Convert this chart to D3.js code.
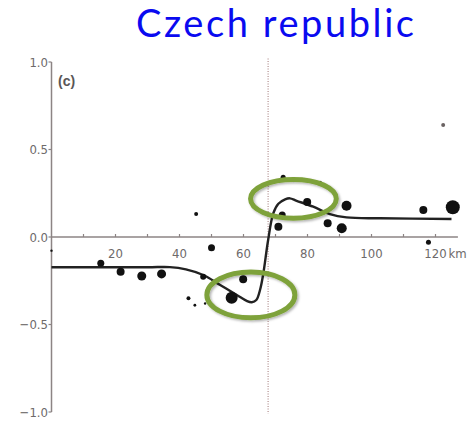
<!DOCTYPE html>
<html>
<head>
<meta charset="utf-8">
<script src="https://cdn.jsdelivr.net/npm/d3@7"></script>
<style>
  html, body { margin: 0; padding: 0; background: #fff; }
  svg { display: block; }
</style>
</head>
<body>
<svg id="chart" width="468" height="424"></svg>
<script>
// Sampling sites: distance along the transect (km), cline value and sample size
const siteKm = [0, 15.4, 21.6, 28.2, 34.4, 42.8, 44.8, 45.2, 47.4, 48, 50, 56.3, 59.9,
                70.9, 72.1, 72.4, 79.9, 83.9, 86.3, 90.7, 92.2, 116.2, 117.8, 122.4, 125.4];
const siteValue = [-0.078, -0.15, -0.198, -0.223, -0.211, -0.35, -0.39, 0.131, -0.227, -0.38,
                   -0.061, -0.347, -0.242, 0.059, 0.126, 0.341, 0.2, 0.31, 0.078, 0.05, 0.179,
                   0.154, -0.03, 0.64, 0.17];
const siteN = [1.1, 12.5, 16.3, 20.7, 20.7, 4, 2, 4, 9.2, 1.5, 12.5, 36.7, 16.3,
               16.3, 12.5, 6.4, 16.3, 4, 16.3, 25.5, 25.5, 16.3, 6.4, 4, 50];

// Fitted cline
const fitKm = [0, 30, 37, 42, 47.4, 52.7, 57.9, 61, 62.6, 64, 65.2, 66.2, 67.7, 69.3,
               70.9, 73, 74.5, 76.6, 81.8, 87, 92.2, 102.7, 125];
const fitValue = [-0.173, -0.173, -0.172, -0.185, -0.217, -0.274, -0.331, -0.365, -0.373,
                  -0.36, -0.30, -0.208, -0.017, 0.135, 0.19, 0.215, 0.221, 0.207, 0.173,
                  0.131, 0.112, 0.107, 0.103];

// Cline centre (km)
const centreKm = 67.7;

// Axis ticks
const xTicks = [10, 20, 30, 40, 50, 60, 70, 80, 90, 100, 110, 120];
const xTickLabels = [20, 40, 60, 80, 100, 120];
const yTicks = [1.0, 0.5, 0.0, -0.5, -1.0];

// Highlighted regions: [centre km, centre value, half-width km, half-height value]
const highlightKm = [75.6, 62.3];
const highlightValue = [0.218, -0.331];
const highlightHalfKm = [13.4, 13.75];
const highlightHalfValue = [0.111, 0.131];

const titleText = "Czech republic";
const panelLabel = "(c)";

const svg = d3.select("#chart");
const x = d3.scaleLinear().domain([0, 120]).range([51.5, 435.5]);
const y = d3.scaleLinear().domain([-1, 1]).range([412, 62]);
const r = d3.scaleSqrt().domain([0, 50]).range([0, 7]);

const axisColor = "#8c8484";
const labelColor = "#6e6a6a";
const tickFont = "'Liberation Sans Narrow', 'DejaVu Sans Condensed', sans-serif";

const defs = svg.append("defs");
const shadow = defs.append("filter").attr("id", "shadow")
  .attr("x", "-20%").attr("y", "-20%").attr("width", "140%").attr("height", "140%");
shadow.append("feDropShadow").attr("dx", 1.5).attr("dy", 1.5).attr("stdDeviation", 1.2)
  .attr("flood-color", "#000").attr("flood-opacity", 0.3);

// Title: fixed size, tracking widened to span the title width
const titleWidth = 278;
const title = svg.append("text")
  .attr("x", 275).attr("y", 37)
  .attr("text-anchor", "middle")
  .attr("font-family", "Lato, 'Open Sans', sans-serif")
  .attr("font-size", 38)
  .attr("fill", "#0a0af0")
  .text(titleText);
const tw = title.node().getComputedTextLength();
const spacing = Math.max(0, (titleWidth - tw) / (titleText.length - 1));
title.attr("letter-spacing", spacing).attr("x", 275 + spacing / 2);

// Y axis
svg.append("line")
  .attr("x1", x(0)).attr("x2", x(0))
  .attr("y1", y(1)).attr("y2", y(-1))
  .attr("stroke", axisColor).attr("stroke-width", 1.5);
svg.selectAll(".ytick").data(yTicks).join("line")
  .attr("x1", x(0) - 3).attr("x2", x(0))
  .attr("y1", d => y(d)).attr("y2", d => y(d))
  .attr("stroke", axisColor).attr("stroke-width", 1.2);
svg.selectAll(".ylabel").data(yTicks).join("text")
  .attr("x", x(0) - 3.5).attr("y", d => y(d) + 4.5)
  .attr("text-anchor", "end")
  .attr("font-family", tickFont).attr("font-size", 13)
  .attr("fill", labelColor)
  .text(d => d3.format(".1f")(d).replace("-", "\u2212"));

// X axis
svg.append("line")
  .attr("x1", x(0)).attr("x2", x(127))
  .attr("y1", y(0)).attr("y2", y(0))
  .attr("stroke", axisColor).attr("stroke-width", 1.5);
svg.selectAll(".xtick").data(xTicks).join("line")
  .attr("x1", d => x(d)).attr("x2", d => x(d))
  .attr("y1", y(0)).attr("y2", y(0) - 3)
  .attr("stroke", axisColor).attr("stroke-width", 1.2);
svg.selectAll(".xlabel").data(xTickLabels).join("text")
  .attr("x", d => x(d)).attr("y", y(0) + 21)
  .attr("text-anchor", "middle")
  .attr("font-family", tickFont).attr("font-size", 13)
  .attr("fill", labelColor)
  .text(d => d);
svg.append("text")
  .attr("x", x(120) + 13).attr("y", y(0) + 21)
  .attr("font-family", tickFont).attr("font-size", 13)
  .attr("fill", labelColor)
  .text("km");

// Panel label
svg.append("text")
  .attr("x", 58).attr("y", 86)
  .attr("font-family", "'Liberation Sans', Arial, sans-serif")
  .attr("font-weight", "bold").attr("font-size", 14)
  .attr("fill", "#5a5656")
  .text(panelLabel);

// Cline centre
svg.append("line")
  .attr("x1", x(centreKm)).attr("x2", x(centreKm))
  .attr("y1", y(1.02)).attr("y2", y(-1.01))
  .attr("stroke", "#c0a4a4").attr("stroke-width", 1.5)
  .attr("stroke-dasharray", "1,1.5");

// Fitted curve
const fit = fitKm.map((k, i) => [k, fitValue[i]]);
svg.append("path")
  .datum(fit)
  .attr("fill", "none")
  .attr("stroke", "#222")
  .attr("stroke-width", 2.4)
  .attr("d", d3.line().x(d => x(d[0])).y(d => y(d[1])).curve(d3.curveCatmullRom.alpha(0.5)));

// Sites
const sites = siteKm.map((k, i) => ({ km: k, v: siteValue[i], n: siteN[i] }));
svg.selectAll(".site").data(sites).join("circle")
  .attr("cx", d => x(d.km)).attr("cy", d => y(d.v))
  .attr("r", d => Math.max(1.2, r(d.n)))
  .attr("fill", d => d.v > 0.5 ? "#6a6262" : "#111");

// Highlight ellipses
const hl = highlightKm.map((k, i) => ({ km: k, v: highlightValue[i], hk: highlightHalfKm[i], hv: highlightHalfValue[i] }));
svg.selectAll(".hl").data(hl).join("ellipse")
  .attr("cx", d => x(d.km)).attr("cy", d => y(d.v))
  .attr("rx", d => x(d.hk) - x(0))
  .attr("ry", d => y(0) - y(d.hv))
  .attr("fill", "none")
  .attr("stroke", "#7ea23a")
  .attr("stroke-width", 5)
  .attr("filter", "url(#shadow)");
</script>
</body>
</html>
